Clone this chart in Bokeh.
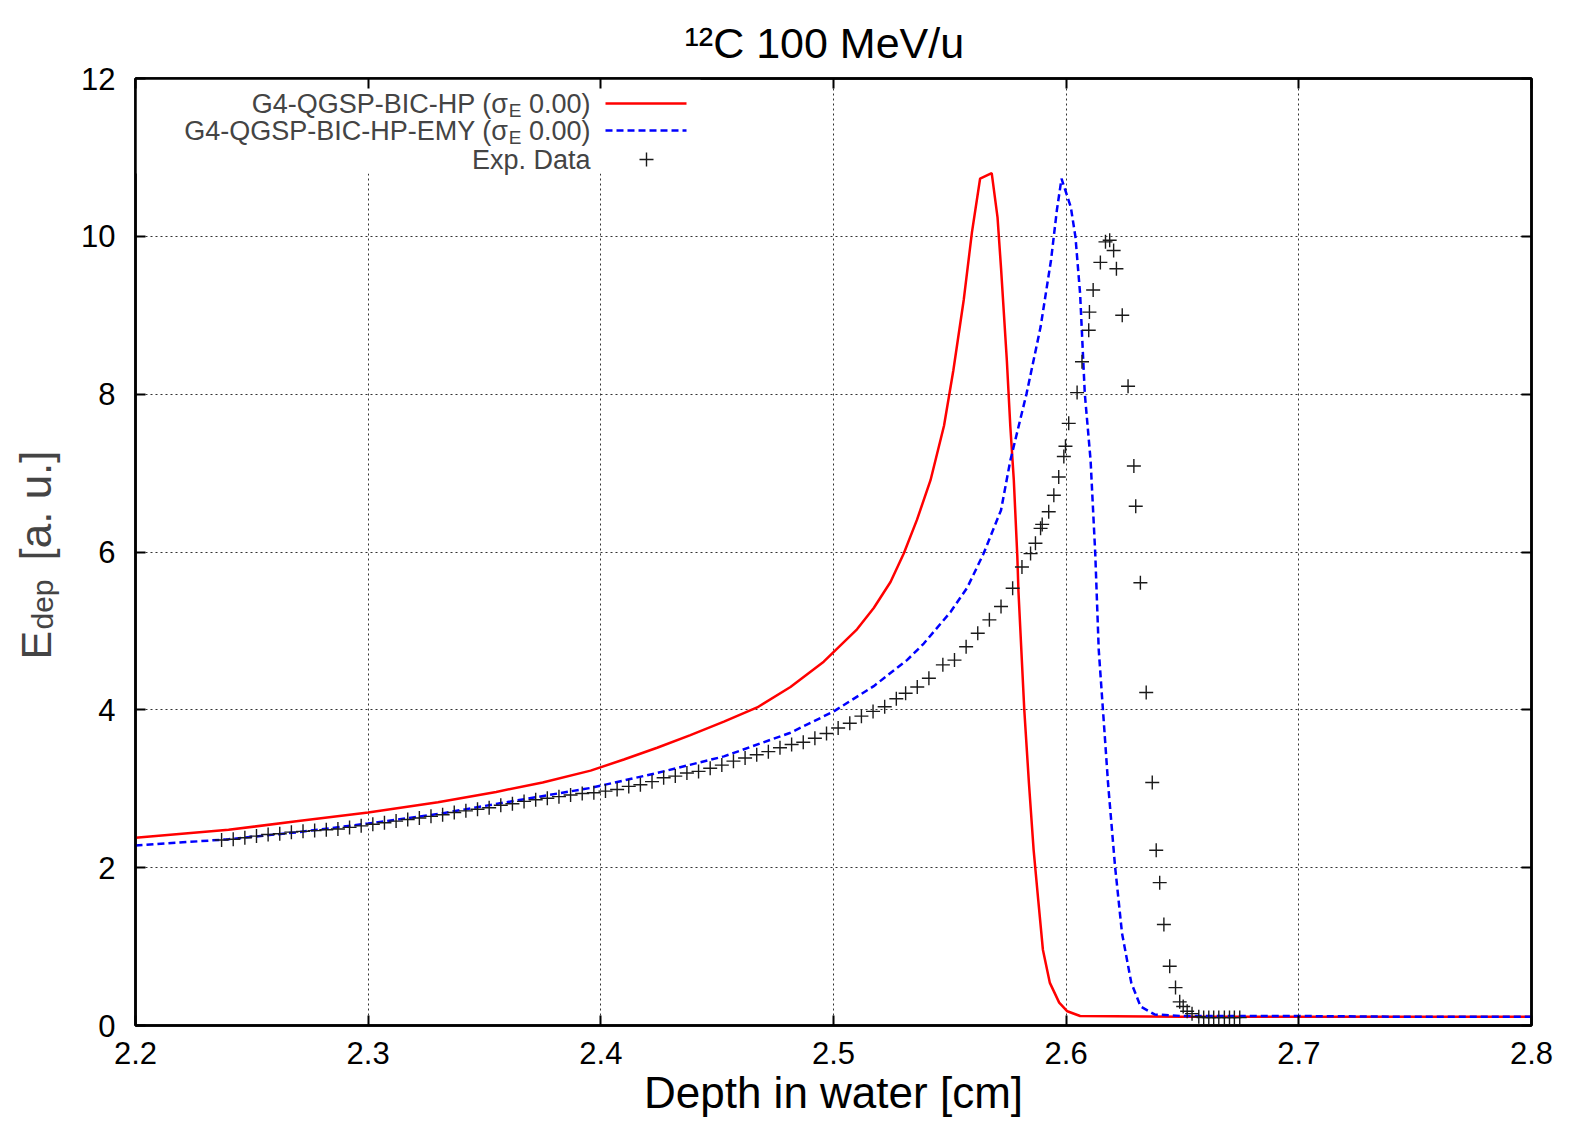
import math
from bokeh.plotting import figure
from bokeh.layouts import row
from bokeh.models import (Label, Arrow, LinearAxis, Range1d, FixedTicker,
                          BoxAnnotation)
from bokeh.embed import file_html
from bokeh.resources import INLINE

# ---------------- data ----------------
x_ticks = [2.2, 2.3, 2.4, 2.5, 2.6, 2.7, 2.8]
y_ticks = [0, 2, 4, 6, 8, 10, 12]

hp_x = [2.200, 2.240, 2.270, 2.300, 2.330, 2.355, 2.375, 2.3956, 2.4099, 2.4242,
        2.4385, 2.4529, 2.4672, 2.4815, 2.4958, 2.5101, 2.5173, 2.5245, 2.5302,
        2.5359, 2.5417, 2.5475, 2.5515, 2.556, 2.5595, 2.563, 2.568, 2.5705,
        2.572, 2.5745, 2.576, 2.5775, 2.579, 2.5795, 2.582, 2.584, 2.586,
        2.588, 2.590, 2.593, 2.597, 2.6005, 2.606, 2.650, 2.700, 2.750, 2.800]
hp_y = [2.38, 2.48, 2.59, 2.70, 2.83, 2.96, 3.08, 3.23, 3.37, 3.52,
        3.68, 3.85, 4.03, 4.29, 4.61, 5.02, 5.29, 5.62, 5.98,
        6.41, 6.91, 7.60, 8.30, 9.20, 10.05, 10.73, 10.80, 10.24,
        9.60, 8.43, 7.59, 6.91, 5.95, 5.50, 4.00, 3.07, 2.23,
        1.59, 0.96, 0.54, 0.29, 0.18, 0.12, 0.11, 0.11, 0.11, 0.11]

emy_x = [2.200, 2.240, 2.270, 2.300, 2.330, 2.3555, 2.3956, 2.4242, 2.4529, 2.4815,
         2.5001, 2.5173, 2.5316, 2.5388, 2.5503, 2.5575, 2.5645, 2.572,
         2.576, 2.583, 2.589, 2.5935, 2.596, 2.598, 2.602, 2.604, 2.606,
         2.608, 2.6105, 2.6125, 2.614, 2.616, 2.618, 2.621, 2.624, 2.628,
         2.632, 2.638, 2.650, 2.700, 2.750, 2.800]
emy_y = [2.28, 2.36, 2.45, 2.56, 2.68, 2.81, 3.01, 3.20, 3.41, 3.71,
         3.98, 4.30, 4.63, 4.84, 5.24, 5.55, 5.98, 6.53,
         7.16, 8.01, 8.85, 9.70, 10.33, 10.73, 10.37, 9.99, 9.27,
         8.01, 7.16, 5.98, 4.76, 3.92, 3.07, 2.02, 1.17, 0.54,
         0.24, 0.14, 0.12, 0.12, 0.11, 0.11]

exp_x = [2.237, 2.242, 2.247, 2.252, 2.257, 2.262, 2.267, 2.272, 2.277, 2.282,
         2.287, 2.292, 2.297, 2.302, 2.307, 2.312, 2.317, 2.322, 2.327, 2.332,
         2.337, 2.342, 2.347, 2.352, 2.357, 2.362, 2.367, 2.372, 2.377, 2.382,
         2.387, 2.392, 2.397, 2.402, 2.407, 2.412, 2.417, 2.422, 2.427, 2.432,
         2.437, 2.442, 2.447, 2.452, 2.457, 2.462, 2.467, 2.472, 2.477, 2.482,
         2.487, 2.492, 2.497, 2.502, 2.507, 2.512, 2.517, 2.522, 2.527, 2.531,
         2.536, 2.541, 2.547, 2.552, 2.557, 2.562, 2.567, 2.572, 2.577, 2.581,
         2.5847, 2.5868, 2.589, 2.5897, 2.5925, 2.5947, 2.5968, 2.599, 2.5997, 2.6011,
         2.6047, 2.6068, 2.6097, 2.610, 2.6116, 2.6147, 2.6169, 2.6187, 2.6204, 2.6216,
         2.6241, 2.6266, 2.6291, 2.6299, 2.6319, 2.6344, 2.637, 2.6387, 2.6402, 2.642,
         2.6445, 2.647, 2.6488, 2.6503, 2.652, 2.6541, 2.657, 2.6591, 2.6613, 2.6634,
         2.6656, 2.668, 2.6702, 2.6723, 2.6746]
exp_y = [2.35, 2.36, 2.38, 2.40, 2.42, 2.43, 2.45, 2.46, 2.47, 2.48,
         2.49, 2.51, 2.53, 2.55, 2.57, 2.59, 2.61, 2.63, 2.65, 2.67,
         2.70, 2.72, 2.74, 2.76, 2.79, 2.81, 2.84, 2.86, 2.88, 2.90,
         2.92, 2.94, 2.95, 2.97, 2.99, 3.03, 3.05, 3.09, 3.14, 3.16,
         3.20, 3.22, 3.26, 3.30, 3.35, 3.39, 3.43, 3.47, 3.52, 3.56,
         3.59, 3.64, 3.70, 3.77, 3.83, 3.92, 3.98, 4.04, 4.14, 4.21,
         4.29, 4.40, 4.57, 4.63, 4.80, 4.97, 5.14, 5.31, 5.54, 5.81,
         5.98, 6.11, 6.30, 6.35, 6.51, 6.72, 6.95, 7.21, 7.34, 7.63,
         8.02, 8.41, 8.81, 9.04, 9.32, 9.67, 9.93, 9.95, 9.82, 9.59,
         9.00, 8.10, 7.09, 6.58, 5.61, 4.22, 3.08, 2.22, 1.81, 1.28,
         0.75, 0.48, 0.30, 0.24, 0.18, 0.15, 0.11, 0.10, 0.10, 0.10,
         0.10, 0.10, 0.10, 0.10, 0.10]

title_text = "\u00b9\u00b2C 100 MeV/u"
x_label = "Depth in water [cm]"
y_label_main = "E"
y_label_sub = "dep"
y_label_rest = "[a. u.]"
leg_hp = "G4-QGSP-BIC-HP (\u03c3"
leg_emy = "G4-QGSP-BIC-HP-EMY (\u03c3"
leg_sub = "E"
leg_tail = "0.00)"
leg_exp = "Exp. Data"

# ---------------- geometry ----------------
FONT = "Liberation Sans"
W, H = 1566, 1119
LEFT_W = 62          # y-label strip
FRAME_L, FRAME_R, FRAME_T, FRAME_B = 135, 1531, 78, 1026
FW, FH = FRAME_R - FRAME_L, FRAME_B - FRAME_T

# ---------------- main plot ----------------
p = figure(width=W - LEFT_W, height=H, output_backend="svg",
           toolbar_location=None,
           x_range=Range1d(2.2, 2.8), y_range=Range1d(0, 12),
           min_border_left=FRAME_L - LEFT_W, min_border_right=W - FRAME_R,
           min_border_top=FRAME_T, min_border_bottom=H - FRAME_B)
p.outline_line_color = "black"
p.outline_line_width = 2.5

p.title.text = title_text
p.title.text_font = FONT
p.title.text_font_size = "43px"
p.title.text_font_style = "normal"
p.title.text_color = "black"
p.title.align = "left"
p.title.offset = 684 - FRAME_L
p.title.standoff = 23

for g in (p.xgrid, p.ygrid):
    g.grid_line_color = "#333333"
    g.grid_line_dash = "2 3"
    g.grid_line_width = 1
p.xgrid.ticker = FixedTicker(ticks=x_ticks)
p.ygrid.ticker = FixedTicker(ticks=y_ticks)

for ax in (p.xaxis[0], p.yaxis[0]):
    ax.axis_line_width = 2.5
    ax.major_tick_in = 10
    ax.major_tick_out = 0
    ax.major_tick_line_width = 2
    ax.minor_tick_line_color = None
    ax.major_label_text_font = FONT
    ax.major_label_text_font_size = "31px"
    ax.major_label_text_color = "black"
p.xaxis.ticker = FixedTicker(ticks=x_ticks)
p.yaxis.ticker = FixedTicker(ticks=y_ticks)
p.xaxis.major_label_standoff = 16
p.yaxis.major_label_standoff = 20
p.xaxis.axis_label = x_label
p.xaxis.axis_label_text_font = FONT
p.xaxis.axis_label_text_font_size = "44px"
p.xaxis.axis_label_text_font_style = "normal"
p.xaxis.axis_label_text_color = "black"
p.xaxis.axis_label_standoff = 1

ax_r = LinearAxis(ticker=FixedTicker(ticks=y_ticks),
                  major_label_overrides={t: "" for t in y_ticks})
ax_t = LinearAxis(ticker=FixedTicker(ticks=x_ticks),
                  major_label_overrides={t: "" for t in x_ticks})
for ax in (ax_r, ax_t):
    ax.axis_line_width = 2.5
    ax.major_tick_in = 10
    ax.major_tick_out = 0
    ax.major_tick_line_width = 2
    ax.minor_tick_line_color = None
    ax.major_label_text_font_size = "0px"
    ax.major_label_standoff = 0
p.add_layout(ax_r, "right")
p.add_layout(ax_t, "above")

# white key background hiding the grid behind the key
p.add_layout(BoxAnnotation(left=0, right=565, top=FH, bottom=852,
                           left_units="screen", right_units="screen",
                           top_units="screen", bottom_units="screen",
                           fill_color="white", fill_alpha=1.0,
                           line_color=None, level="underlay"))

p.line(hp_x, hp_y, line_color="#ff0000", line_width=2.5)
p.line(emy_x, emy_y, line_color="#0000ff", line_width=2.5, line_dash="7 4")
p.scatter(exp_x, exp_y, marker="cross", size=14, line_color="#1a1a1a",
          line_width=1.4)

# key (gnuplot style: text on the left, sample on the right)
LF, LSF = "27px", "19px"
x_tail = 455
for yc, txt in [(922, leg_hp), (895, leg_emy)]:
    p.add_layout(Label(x=x_tail, y=yc, x_units="screen", y_units="screen",
                       text=leg_tail, text_font=FONT, text_font_size=LF,
                       text_align="right", text_baseline="middle"))
    p.add_layout(Label(x=x_tail - 69, y=yc - 7, x_units="screen", y_units="screen",
                       text=leg_sub, text_font=FONT, text_font_size=LSF,
                       text_align="right", text_baseline="middle"))
    p.add_layout(Label(x=x_tail - 82, y=yc, x_units="screen", y_units="screen",
                       text=txt, text_font=FONT, text_font_size=LF,
                       text_align="right", text_baseline="middle"))
p.add_layout(Label(x=x_tail, y=866, x_units="screen", y_units="screen",
                   text=leg_exp, text_font=FONT, text_font_size=LF,
                   text_align="right", text_baseline="middle"))

p.add_layout(Arrow(x_start=470, y_start=922, x_end=551, y_end=922,
                   start_units="screen", end_units="screen", end=None,
                   line_color="#ff0000", line_width=2.5))
p.add_layout(Arrow(x_start=470, y_start=895, x_end=551, y_end=895,
                   start_units="screen", end_units="screen", end=None,
                   line_color="#0000ff", line_width=2.5, line_dash="7 4"))
p.add_layout(Arrow(x_start=504, y_start=866, x_end=518, y_end=866,
                   start_units="screen", end_units="screen", end=None,
                   line_color="#1a1a1a", line_width=1.4))
p.add_layout(Arrow(x_start=511, y_start=859, x_end=511, y_end=873,
                   start_units="screen", end_units="screen", end=None,
                   line_color="#1a1a1a", line_width=1.4))

# ---------------- y-label strip ----------------
# (its frame is aligned with the main frame: bottom edge at FRAME_B)
left = figure(width=LEFT_W, height=H, output_backend="svg",
              toolbar_location=None, x_axis_type=None, y_axis_type=None,
              x_range=Range1d(0, 1), y_range=Range1d(0, 1), min_border=0)
left.outline_line_color = None
left.grid.visible = False
left.title.visible = False
left.add_layout(Label(x=35, y=FRAME_B - 660, x_units="screen", y_units="screen",
                      text=y_label_main, text_font=FONT, text_font_size="43px",
                      angle=math.pi / 2, text_align="left", text_baseline="middle"))
left.add_layout(Label(x=42, y=FRAME_B - 630, x_units="screen", y_units="screen",
                      text=y_label_sub, text_font=FONT, text_font_size="30px",
                      angle=math.pi / 2, text_align="left", text_baseline="middle"))
left.add_layout(Label(x=35, y=FRAME_B - 561, x_units="screen", y_units="screen",
                      text=y_label_rest, text_font=FONT, text_font_size="44px",
                      angle=math.pi / 2, text_align="left", text_baseline="middle"))

layout = row(left, p, spacing=0)
open("out.html", "w").write(file_html(layout, INLINE))
